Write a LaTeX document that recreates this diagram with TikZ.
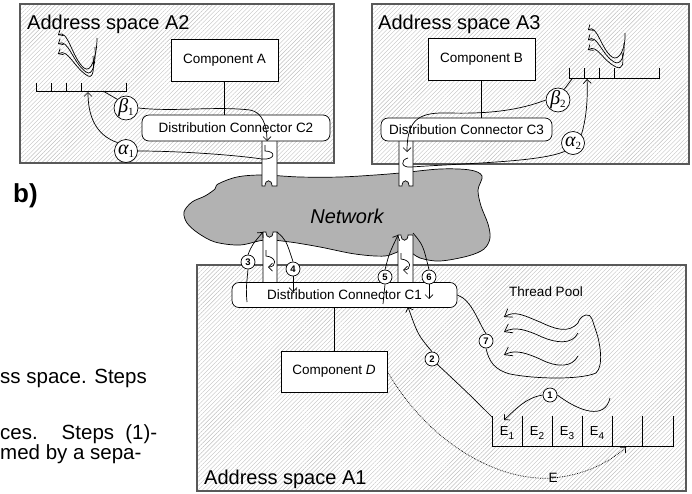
\documentclass[tikz,border=0pt]{standalone}
\usepackage{fontspec}
\setmainfont{Liberation Sans}
\newfontfamily\grkfont{Liberation Serif}
\usetikzlibrary{arrows.meta,patterns.meta}
\newcommand{\fsz}[1]{\fontsize{#1}{#1}\selectfont}
\newcommand{\ctrlname}[2]{{\grkfont\itshape #1}\raisebox{-3pt}{\grkfont\fsz{11}#2}}

\begin{document}
\begin{tikzpicture}[x=1pt, y=-1pt]
  %% Styles
  \tikzset
  {
  addrspace/.style={draw=black!65, line width=1.3pt, pattern={Lines[angle=45, distance=3pt, line width=0.4pt]}, pattern color=black!25},
  spacetitle/.style={anchor=base west, inner sep=0pt, font=\fsz{20}},
  comp/.style={draw, fill=white, line width=0.7pt, inner sep=0pt, minimum width=107pt, minimum height=42pt, font=\fsz{13.5}},
  dconn/.style={draw, fill=white, line width=0.7pt, rounded corners=7pt, inner sep=0pt, minimum height=25pt, font=\fsz{13.5}},
  port/.style={draw, fill=white, line width=0.7pt},
  stepnum/.style={circle, draw, fill=white, line width=0.7pt, inner sep=0pt, minimum size=14pt, font=\bfseries\fsz{9.5}},
  ctrl/.style={circle, draw, fill=white, line width=0.7pt, inner sep=0pt, minimum size=23pt, font=\fsz{20}},
  wire/.style={line width=0.7pt},
  flow/.style={wire, -{Straight Barb[length=4pt, width=8pt]}},
  thread/.style={wire, {Straight Barb[length=4pt, width=7pt]}-},
  poolthread/.style={wire, {Straight Barb[length=7pt, width=10pt]}-},
  }
  \useasboundingbox (0,0) rectangle (692,493);

  %% Address spaces
  \draw[addrspace] (20,4) rectangle (334,163);
  \draw[addrspace] (372,4) rectangle (689,164);
  \draw[addrspace] (197,265) rectangle (686,491);
  \node[spacetitle] (tA2) at (27,29) {Address space A2};
  \node[spacetitle] (tA3) at (378,29) {Address space A3};
  \node[spacetitle] (tA1) at (204,484) {Address space A1};

  %% Text of the page
  \node[anchor=base west, inner sep=0pt, font=\bfseries\fsz{26}] (lblb) at (13,202) {b)};
  \node[anchor=base west, inner sep=0pt, font=\fsz{20.5}] (txt1) at (0,383) {ss space. Steps};
  \node[anchor=base west, inner sep=0pt, font=\fsz{20.5}] (txt2) at (0,439) {\makebox[157pt][s]{ces. Steps (1)-}};
  \node[anchor=base west, inner sep=0pt, font=\fsz{20.5}] (txt3) at (0,459) {med by a sepa-};

  %% Network
  \draw[wire, fill=black!30] plot[smooth cycle, tension=0.55] coordinates {(184,212) (192,202) (205,196) (215,189) (218,184) (237,177) (262,175) (300,177) (340,177) (375,175) (400,173) (440,169) (470,170) (482,176) (478,190) (481,206) (488,224) (490,238) (484,249) (468,256) (440,261) (420,258) (405,250) (385,256) (355,254) (320,247) (290,242) (265,240) (240,245) (215,242) (198,233) (187,223)};
  \node[font=\itshape\fsz{20}] (net) at (347,216) {Network};

  %% Ports
  \draw[port] (262,141) -- (262,186) -- (265,186) .. controls (265,179) and (272,179) .. (272,186) -- (277,186) -- (277,141);
  \draw[port] (399,141) -- (399,186) -- (402,186) .. controls (402,179) and (409,179) .. (409,186) -- (413,186) -- (413,141);
  \draw[port] (263,283) -- (263,232) -- (266,232) .. controls (266,239) and (273,239) .. (273,232) -- (277,232) -- (277,283);
  \draw[port] (398,283) -- (398,235) -- (401,235) .. controls (401,242) and (408,242) .. (408,235) -- (413,235) -- (413,283);

  %% Components and connectors
  \node[comp] (compA) at (224.5,60) {Component A};
  \node[comp] (compB) at (481.5,59.5) {Component B};
  \node[comp, minimum width=106pt, minimum height=41pt] (compD) at (334,371.5) {Component \textit{D}};
  \node[dconn, minimum width=188pt, minimum height=26pt] (conC2) at (236,128) {Distribution Connector C2};
  \node[dconn, minimum width=171pt, minimum height=23pt] (conC3) at (466.5,129.5) {Distribution Connector C3};
  \node[dconn, minimum width=225pt] (conC1) at (344.5,295) {Distribution Connector C1};
  \draw[wire] (compA.south) -- (compA.south |- conC2.north);
  \draw[wire] (compB.south) -- (compB.south |- conC3.north);
  \draw[wire] (compD.north) -- (compD.north |- conC1.south);

  %% Queues
  \draw[wire] (36,83) -- (36,91) -- (126,91) -- (126,83)
  (51,83) -- (51,91) (66,83) -- (66,91) (81,83) -- (81,91);
  \draw[wire] (569,68) -- (569,78) -- (659,78) -- (659,68)
  (584,68) -- (584,78) (599,68) -- (599,78) (614,68) -- (614,78);
  \draw[wire] (492,416) -- (492,446) -- (673,446) -- (673,416)
  (522,416) -- (522,446) (552,416) -- (552,446) (582,416) -- (582,446)
  (612,416) -- (612,446) (642,416) -- (642,446);
  \node[font=\fsz{13}] (e1) at (507,433) {E\raisebox{-4pt}{\fsz{10}1}};
  \node[font=\fsz{13}] (e2) at (537,433) {E\raisebox{-4pt}{\fsz{10}2}};
  \node[font=\fsz{13}] (e3) at (567,433) {E\raisebox{-4pt}{\fsz{10}3}};
  \node[font=\fsz{13}] (e4) at (597,433) {E\raisebox{-4pt}{\fsz{10}4}};
  \coordinate (q2a) at (88,92);
  \coordinate (q2b) at (103,91);
  \coordinate (q3a) at (587,79);
  \coordinate (q3b) at (572,79);
  \coordinate (q1a) at (492,417);
  \coordinate (q1in) at (504,420);
  \coordinate (q1e) at (626,447);

  %% Threads
  \draw[thread] (58,35) .. controls (68,29) and (72,58) .. (84,68) .. controls (91,74) and (97,56) .. (97,38);
  \draw[thread] (58,44) .. controls (68,38) and (73,63) .. (86,72) .. controls (93,77) and (96,62) .. (95,47);
  \draw[thread] (58,54) .. controls (68,48) and (74,68) .. (88,76) .. controls (94,79) and (94,66) .. (93,56);
  \draw[thread] (588,30) .. controls (597,24) and (601,49) .. (612,57) .. controls (619,62) and (626,48) .. (625,33);
  \draw[thread] (588,40) .. controls (597,34) and (602,55) .. (614,62) .. controls (621,66) and (625,56) .. (624,43);
  \draw[thread] (588,50) .. controls (597,44) and (603,61) .. (616,67) .. controls (623,70) and (624,63) .. (622,53);
  \node[font=\fsz{13.5}] (pool) at (546,292) {Thread Pool};
  \draw[poolthread] (504,317) .. controls (515,310) and (525,316) .. (540,322) .. controls (555,329) and (568,334) .. (578,323);
  \draw[poolthread] (504,332) .. controls (515,326) and (527,330) .. (542,337) .. controls (556,343) and (572,345) .. (578,333);
  \draw[poolthread] (504,355) .. controls (515,349) and (527,353) .. (542,360) .. controls (556,367) and (572,368) .. (578,356);

  %% Control points
  \node[ctrl] (b1) at (126,108) {\ctrlname{β}{1}};
  \node[ctrl] (a1) at (126,151) {\ctrlname{α}{1}};
  \node[ctrl] (b2) at (558,100) {\ctrlname{β}{2}};
  \node[ctrl] (a2) at (573,143) {\ctrlname{α}{2}};
  \draw[wire] (q2b) -- (b1.north west);
  \draw[flow] (b1.east) .. controls (175,112) and (215,106) .. (250,110) .. controls (262,112) and (267,125) .. (267,141);
  \draw[flow] (a1.north west) .. controls (95,135) and (88,115) .. (q2a);
  \draw[wire] (a1.east) .. controls (180,151) and (235,155) .. (262,159) .. controls (276,160) and (276,151) .. (265,151) -- (265,145);
  \draw[wire] (b2.60) -- (q3b);
  \draw[flow] (b2.west) .. controls (520,110) and (490,114) .. (450,113) .. controls (420,112) and (407,118) .. (407,152);
  \draw[flow] (a2.north east) .. controls (586,120) and (588,100) .. (q3a);
  \draw[wire] (a2.south west) .. controls (540,162) and (470,163) .. (411,167) .. controls (401,168) and (400,160) .. (408,158);

  %% Steps
  \node[stepnum] (s1) at (550,395) {1};
  \node[stepnum] (s2) at (432,359) {2};
  \node[stepnum] (s3) at (248,262) {3};
  \node[stepnum] (s4) at (293,269) {4};
  \node[stepnum] (s5) at (385,277) {5};
  \node[stepnum] (s6) at (429,277) {6};
  \node[stepnum] (s7) at (486,341) {7};
  \coordinate (c3in) at (247,302);
  \coordinate (c4in) at (293,292);
  \coordinate (c5in) at (383,304);
  \coordinate (c6in) at (429,299);
  \coordinate (c2in) at (408,307);
  \coordinate (s1tail) at (610,398);
  \draw[wire] (c3in) .. controls (246,290) .. (s3.south);
  \draw[flow] (s3.north) .. controls (252,245) .. (263,232);
  \draw[wire] (277,232) .. controls (286,240) .. (s4.north);
  \draw[flow] (s4.south) -- (c4in);
  \draw[wire] (c5in) -- (s5.south);
  \draw[flow] (s5.north) .. controls (389,254) .. (398,235);
  \draw[wire] (413,233) .. controls (423,245) .. (s6.north);
  \draw[flow] (s6.south) -- (c6in);
  \draw[flow] (266,250) -- (266,256) .. controls (277,257) and (277,267) .. (268,267);
  \draw[flow] (401,253) -- (401,259) .. controls (412,260) and (412,270) .. (403,270);
  \draw[wire] (q1a) .. controls (470,395) .. (s2.south east);
  \draw[flow] (s2.north) .. controls (418,335) .. (c2in);
  \draw[wire] (s1tail) .. controls (605,420) and (580,412) .. (s1.east);
  \draw[flow] (s1.west) .. controls (525,398) and (515,410) .. (q1in);
  \draw[wire] (conC1.east) .. controls (472,300) and (478,322) .. (s7.north);
  \draw[wire] (s7.south) .. controls (489,362) and (495,370) .. (510,374) .. controls (535,379) and (580,380) .. (596,373) .. controls (604,366) and (600,342) .. (596,331) .. controls (592,320) and (592,314) .. (586,315) .. controls (581,316) and (579,320) .. (578,323);

  %% Dispatch of E
  \draw[wire, densely dotted, -{Straight Barb[length=4pt, width=8pt]}] (compD.east) .. controls (430,445) and (500,482) .. (553,478) .. controls (585,475) and (610,462) .. (q1e);
  \node[font=\fsz{13.5}, inner sep=0pt] (elbl) at (553,478) {E};
\end{tikzpicture}
\end{document}
